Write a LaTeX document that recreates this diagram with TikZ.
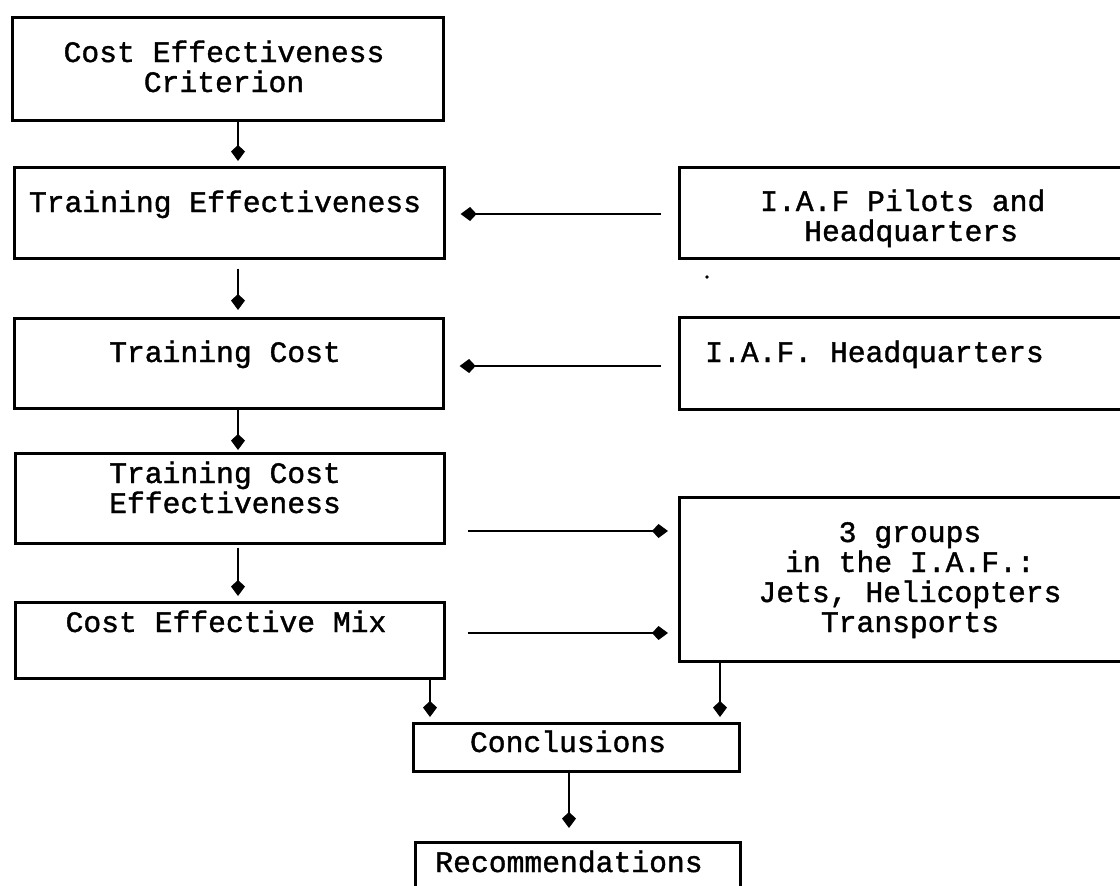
\documentclass[tikz,border=0pt]{standalone}
\usepackage{fontspec}
\setmonofont[FakeBold=1.3]{Liberation Mono}
\usetikzlibrary{arrows.meta}
\tikzset{
  boxx/.style={draw, line width=2.6pt, inner sep=0pt, anchor=north west},
  txt/.style={font=\ttfamily\fontsize{29.7}{30}\selectfont, inner sep=0pt, anchor=base, align=center},
  txtl/.style={font=\ttfamily\fontsize{29.7}{30}\selectfont, inner sep=0pt, anchor=base west, align=left},
  conn/.style={line width=1.4pt, -{Kite[length=16pt,width=14pt,inset=6.5pt]}}
}
\begin{document}
\begin{tikzpicture}[x=1pt,y=-1pt]
\useasboundingbox (0,0) rectangle (1120,886);
\clip (0,0) rectangle (1120,886);
% boxes
\node[boxx, minimum width=431pt, minimum height=103pt] (b1) at (11,16) {};
\node[boxx, minimum width=430pt, minimum height=91pt] (b2) at (13,166) {};
\node[boxx, minimum width=429pt, minimum height=90pt] (b3) at (13,317) {};
\node[boxx, minimum width=429pt, minimum height=90pt] (b4) at (14,452) {};
\node[boxx, minimum width=429pt, minimum height=76pt] (b5) at (14,601) {};
\node[boxx, minimum width=460pt, minimum height=91pt] (r1) at (678,166) {};
\node[boxx, minimum width=460pt, minimum height=92pt] (r2) at (678,316) {};
\node[boxx, minimum width=460pt, minimum height=164pt] (r3) at (678,496) {};
\node[boxx, minimum width=326pt, minimum height=48pt] (c) at (412,722) {};
\node[boxx, minimum width=325pt, minimum height=60pt] (rec) at (414,841) {};
% texts (base anchor = baseline of last line)
\node[txt] (t1) at (224,92) {Cost Effectiveness\\Criterion};
\node[txt] (t2) at (225,212) {Training Effectiveness};
\node[txt] (t3) at (225,362) {Training Cost};
\node[txt] (t4) at (225,513) {Training Cost\\Effectiveness};
\node[txt] (t5) at (226,632) {Cost Effective Mix};
\node[txtl] (t6) at (760,241) {I.A.F Pilots and\\\hspace*{44pt}Headquarters};
\node[txtl] (t7) at (705,362) {I.A.F. Headquarters};
\node[txt] (t8) at (910,632) {3 groups\\in the I.A.F.:\\Jets, Helicopters\\Transports};
\node[txt] (t9) at (568,752) {Conclusions};
\node[txt] (t10) at (569,872) {Recommendations};
% helper coordinates
\coordinate (cA) at (238,0);
\coordinate (yA) at (0,214);
\coordinate (yB) at (0,366);
\coordinate (yC) at (0,531);
\coordinate (yD) at (0,633);
\coordinate (cL) at (430,0);
\coordinate (cR) at (720,0);
\coordinate (cM) at (569,0);
% connectors
\draw[conn, shorten >=5pt] (b1.south -| cA) -- (b2.north -| cA);
\draw[conn, shorten <=9pt, shorten >=7pt] (b2.south -| cA) -- (b3.north -| cA);
\draw[conn, shorten >=2pt] (b3.south -| cA) -- (b4.north -| cA);
\draw[conn, shorten <=3pt, shorten >=5pt] (b4.south -| cA) -- (b5.north -| cA);
\draw[conn, shorten <=17pt, shorten >=15pt] (r1.west |- yA) -- (b2.east |- yA);
\draw[conn, shorten <=17pt, shorten >=15pt] (r2.west |- yB) -- (b3.east |- yB);
\draw[conn, shorten <=22pt, shorten >=10pt] (b4.east |- yC) -- (r3.west |- yC);
\draw[conn, shorten <=22pt, shorten >=10pt] (b5.east |- yD) -- (r3.west |- yD);
\draw[conn, shorten >=5pt] (b5.south -| cL) -- (c.north -| cL);
\draw[conn, shorten >=5pt] (r3.south -| cR) -- (c.north -| cR);
\draw[conn, shorten >=13pt] (c.south -| cM) -- (rec.north -| cM);
% stray dot
\fill (707,277) circle (1.8pt);
\end{tikzpicture}
\end{document}
